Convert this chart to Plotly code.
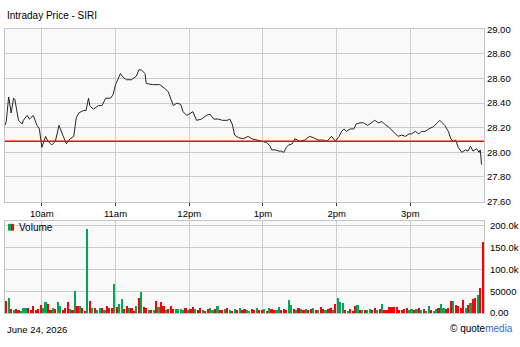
import pandas as pd
import plotly.graph_objects as go

DATE = "2026-06-24"

# ---- price series (time, price) ----
price_times = ["09:30","09:31","09:33","09:35","09:37","09:38","09:41","09:44","09:45","09:48","09:50","09:53","09:56","09:58",
 "10:00","10:03","10:05","10:08","10:11","10:14","10:17","10:20","10:23","10:26","10:28","10:30","10:34","10:36","10:38","10:39",
 "10:42","10:46","10:49","10:52","10:56","10:58","11:00","11:04","11:06","11:09","11:13","11:17","11:19","11:21","11:24","11:25",
 "11:30","11:34","11:36","11:40","11:43","11:47","11:50","11:53","11:55","11:58","12:00","12:03","12:06","12:10","12:14","12:17",
 "12:20","12:24","12:27","12:31","12:33","12:35","12:37","12:40","12:44","12:48","12:51","12:55","12:58","13:00","13:03","13:06",
 "13:07","13:10","13:13","13:15","13:17","13:19","13:21","13:24","13:26","13:30","13:34","13:38","13:41","13:45","13:49","13:52",
 "13:56","13:59","14:02","14:04","14:06","14:08","14:11","14:14","14:16","14:19","14:22","14:25","14:27","14:31","14:34","14:37",
 "14:40","14:42","14:45","14:48","14:50","14:53","14:56","14:59","15:01","15:04","15:07","15:09","15:12","15:15","15:19","15:22",
 "15:24","15:26","15:28","15:31","15:33","15:35","15:37","15:39","15:42","15:45","15:47","15:49","15:51","15:54","15:56","15:57","15:58"]
prices = [28.22,28.25,28.45,28.32,28.44,28.43,28.26,28.23,28.26,28.30,28.27,28.30,28.22,28.19,
 28.04,28.13,28.09,28.06,28.09,28.22,28.14,28.07,28.11,28.13,28.28,28.32,28.34,28.34,28.44,28.38,
 28.35,28.38,28.38,28.44,28.44,28.47,28.55,28.64,28.61,28.59,28.59,28.62,28.67,28.67,28.64,28.56,
 28.55,28.55,28.55,28.52,28.49,28.38,28.40,28.39,28.33,28.30,28.31,28.33,28.26,28.27,28.30,28.31,
 28.27,28.27,28.26,28.26,28.27,28.23,28.14,28.12,28.11,28.13,28.11,28.10,28.09,28.09,28.08,28.05,
 28.02,28.02,28.01,28.01,28.00,28.04,28.06,28.07,28.11,28.09,28.10,28.13,28.12,28.10,28.10,28.09,
 28.13,28.09,28.13,28.17,28.19,28.17,28.19,28.19,28.23,28.24,28.24,28.22,28.23,28.26,28.24,28.25,
 28.22,28.21,28.18,28.15,28.13,28.14,28.13,28.15,28.15,28.17,28.15,28.17,28.17,28.19,28.21,28.24,
 28.26,28.24,28.22,28.17,28.11,28.09,28.10,28.04,28.00,28.02,28.01,28.05,28.01,28.03,28.00,28.02,27.90]
prev_close = 28.09

# ---- volume, 2-minute bars from 09:30 (thousands of shares) ----
volume_k = [27,35,10,6,10,6,4,12,11,12, 6,15,8,10,18,12,26,21,8,11, 10,25,15,8,12,25,10,7,51,15,
 15,12,5,193,28,12,12,8,12,12, 6,15,12,12,67,13,21,32,10,15, 12,12,5,15,35,49,13,12,8,8,
 7,27,13,26,17,6,9,15,9,10, 9,10,
 8,12,6,10,14,9,6,12,8,5, 10,12,7,9,15,8,6,10,12,7, 5,9,8,12,6,10,8,5,9,7, 11,6,8,10,5,12,9,7,6,14,
 8,10,7,30,18,10,7,12,9,6, 10,7,9,12,6,8,14,10,7,9, 12,8,20,35,
 25,22,6,4,10,4,15,18,6,6, 8,6,10,6,12,6,10,21,8,6, 14,13,14,13,8,8,10,12,8,10,
 8,10,12,6,10,5,15,8,5,10, 11,21,11,10,11,28,28,18,15,11, 30,11,18,23,33,35,42,58,162]
# bar direction: u = up (green), d = down (red)
volume_dir = list(
    "dudud" "duuud" "ddddd" "uuddu" "duudd" "dudud" "uddud" "uduud" "udddu" "duudd" "uddud" "uddud"
    "ududd" "udddu" "uu"
    "ududd" "uddud" "duudu" "ddudu" "dudud" "duudd" "uddud" "udduu" "ddduu" "dudud" "uddud" "uddud"
    "dudu"
    "uudud" "ddudu" "duudd" "ududd" "ddddd" "ddduu" "dudud" "uuduu" "duudd" "duddd" "dudud" "dudd"
)

hour_ticks = ["10:00", "11:00", "12:00", "13:00", "14:00", "15:00"]
hour_labels = ["10am", "11am", "12pm", "1pm", "2pm", "3pm"]
price_ticks = [27.6, 27.8, 28.0, 28.2, 28.4, 28.6, 28.8, 29.0]
vol_ticks = [0, 50000, 100000, 150000, 200000]
vol_labels = ["0.00", "50000", "100.0k", "150.0k", "200.0k"]

# ---------------------------------------------------------------
W, H = 520, 347
volume_dir = (volume_dir + ["d"] * len(volume_k))[:len(volume_k)]
px = [pd.Timestamp(f"{DATE} {t}") for t in price_times]
vx = pd.date_range(f"{DATE} 09:31", periods=len(volume_k), freq="2min")
vy = [v * 1000 for v in volume_k]
GREEN, RED = "#00a651", "#ff0000"
vcol = [GREEN if d == "u" else RED for d in volume_dir]
t0, t1 = pd.Timestamp(f"{DATE} 09:30"), pd.Timestamp(f"{DATE} 16:00")
hx = [pd.Timestamp(f"{DATE} {t}") for t in hour_ticks]

FONT = "Liberation Sans"
GRID = "#cccccc"
fig = go.Figure()
fig.add_trace(go.Scatter(x=px, y=prices, mode="lines", line=dict(color="#262626", width=1),
                         xaxis="x", yaxis="y", hoverinfo="skip"))
fig.add_trace(go.Bar(x=vx, y=vy, marker=dict(color=vcol, line=dict(width=0)), width=105000,
                     xaxis="x2", yaxis="y2", hoverinfo="skip"))
fig.add_shape(type="line", xref="x domain", yref="y", x0=0, x1=1, y0=prev_close, y1=prev_close,
              line=dict(color="#ff0000", width=1.5))

xd = [5 / W, 484 / W]
common_x = dict(domain=xd, range=[t0, t1], tickvals=hx, showgrid=True, gridcolor=GRID, gridwidth=1,
                showline=True, linecolor="#c4c4c4", linewidth=1, mirror=True, zeroline=False)
common_y = dict(side="right", showgrid=True, gridcolor=GRID, showline=True, linecolor="#c4c4c4",
                mirror=True, zeroline=False, ticks="", tickfont=dict(size=9.5))
fig.update_layout(
    width=W, height=H, margin=dict(l=0, r=0, t=0, b=0),
    paper_bgcolor="white", plot_bgcolor="#f9f9f9", showlegend=False, bargap=0,
    font=dict(family=FONT, size=9, color="#000"),
    xaxis=dict(**common_x, anchor="y", ticktext=hour_labels, ticks="outside", ticklen=3,
               tickcolor="#333", tickfont=dict(size=9.5)),
    yaxis=dict(**common_y, domain=[1 - 202 / H, 1 - 24 / H], range=[27.6, 29.0], tickvals=price_ticks,
               tickformat=".2f", anchor="x"),
    xaxis2=dict(**common_x, anchor="y2", showticklabels=False, ticks=""),
    yaxis2=dict(**common_y, domain=[1 - 317 / H, 1 - 222 / H], range=[0, 211000], tickvals=vol_ticks,
                showticklabels=False, anchor="x2"),
)

# volume axis labels placed at their data values on y2
for v, lab in zip(vol_ticks, vol_labels):
    fig.add_annotation(text=lab, xref="paper", yref="y2", x=487.5 / W, y=v, xanchor="left",
                       yanchor="middle", showarrow=False, font=dict(size=9.5))

fig.add_annotation(text="Intraday Price - SIRI", xref="paper", yref="paper", x=5 / W, y=1 - 10 / H,
                   xanchor="left", yanchor="middle", showarrow=False, font=dict(size=10))
# volume legend
fig.add_shape(type="rect", xref="paper", yref="paper", x0=8 / W, x1=11 / W, y0=1 - 232 / H, y1=1 - 225 / H,
              fillcolor=GREEN, line=dict(width=0))
fig.add_shape(type="rect", xref="paper", yref="paper", x0=11 / W, x1=14 / W, y0=1 - 232 / H, y1=1 - 225 / H,
              fillcolor=RED, line=dict(width=0))
fig.add_annotation(text="Volume", xref="paper", yref="paper", x=17 / W, y=1 - 228.5 / H,
                   xanchor="left", yanchor="middle", showarrow=False, font=dict(size=10))
# footer
fig.add_annotation(text="June 24, 2026", xref="paper", yref="paper", x=5 / W, y=1 - 334 / H,
                   xanchor="left", yanchor="middle", showarrow=False, font=dict(size=9.5))
fig.add_annotation(text="© quote<span style='color:#3a6bc4'>media</span>", xref="paper", yref="paper",
                   x=515 / W, y=1 - 333 / H, xanchor="right", yanchor="middle", showarrow=False,
                   font=dict(size=10))

fig.write_html("out.html")
